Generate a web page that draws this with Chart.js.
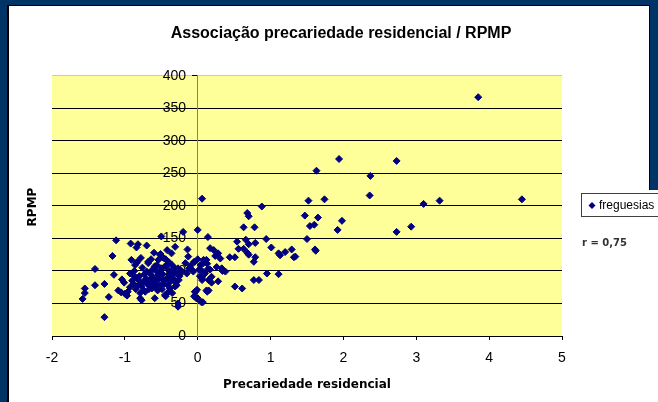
<!DOCTYPE html>
<html lang="pt">
<head>
<meta charset="UTF-8">
<title>Associação precariedade residencial / RPMP</title>
<style>
  html, body { margin: 0; padding: 0; background: #fff; overflow: hidden; }
  #chart { display: block; }
</style>
</head>
<body>
<canvas id="chart" width="658" height="402"></canvas>

<script src="https://cdn.jsdelivr.net/npm/chart.js"></script>
<script>
// dados
const titulo = 'Associação precariedade residencial / RPMP';
const tituloX = 'Precariedade residencial';
const tituloY = 'RPMP';
const serieNome = 'freguesias';
const textoR = 'r = 0,75';

// precariedade residencial (x) e RPMP (y) de cada freguesia
const precariedade = [
  -1.58, -1.55, -1.55, -1.41, -1.41, -1.28, -1.28, -1.22, -1.12, -1.17, -1.15, -1.09, -1.05, -1.04, -1.01, -1.00, -0.97, -0.96, -0.93,
  -0.92, -0.84, -0.82, -0.70, -0.86, -0.83, -0.89, -0.84, -0.79, -0.79, -0.77, -0.68, -0.70, -0.66, -0.59, -0.63, -0.56, -0.52, -0.54, -0.50,
  -0.47, -0.43, -0.40, -0.38, -0.44, -0.36, -0.31, -0.34, -0.27, -0.27, -0.29, -0.20, -0.14, -0.08, -0.06, -0.91, -0.84, -0.68, -0.54, -0.59,
  -0.45, -0.52, -0.40, -0.33, -0.26, -0.31, -0.40, -0.45, -0.27, -0.77, -0.72, -0.79, -0.59, -0.66, -0.17, -0.13, -0.51,
  -0.88, -0.85, -0.82, -0.80, -0.75, -0.74, -0.73, -0.71, -0.69, -0.67, -0.65, -0.63, -0.62, -0.61, -0.58, -0.57, -0.56, -0.55, -0.53, -0.51,
  -0.50, -0.49, -0.48, -0.46, -0.44, -0.42, -0.41, -0.39, -0.37, -0.36, -0.35, -0.33, -0.32, -0.30, -0.28, -0.25, -0.22, -0.93, -0.90, -0.87,
  -0.76, -0.78, -0.64, -0.60, -0.47, -0.42, -0.38, -0.12, -0.10, -0.05, -0.15, -0.05, -0.03, -0.02,
  0.06, 0.88, 0.00, 0.14, 0.04, 0.08, 0.12, 0.17, 0.19, 0.06, -0.01, 0.05, 0.12, 0.15, 0.22, 0.28, 0.31, 0.33, 0.38, 0.28,
  0.44, 0.51, 0.51, 0.61, 0.54, 0.56, 0.63, 0.68, 0.70, 0.78, 0.66, 0.70, 0.79, 0.63, 0.68, 0.70, 0.79, 0.77, 0.77, 0.84,
  0.94, 0.95, 1.01, 0.17, 0.24, 0.00, 0.08, 0.13, 0.14, 0.02, 0.26, 0.34, 0.06, 0.19, 0.15, 0.13, 0.07, 0.05, -0.04, -0.04,
  0.00, 0.10, 0.03,
  1.11, 1.13, 1.20, 1.29, 1.32, 1.34, 1.11, 1.61, 1.62, 1.50, 1.47, 1.65, 1.54, 1.60, 1.98, 1.92, 1.52, 1.74, 1.63, 1.94,
  2.73, 2.37, 2.36, 2.73, 2.93, 3.10, 3.32, 4.45, 3.85
];
const rpmp = [
  57, 66, 73, 103, 78, 29, 80, 60, 147, 123, 94, 70, 67, 87, 82, 65, 62, 68, 75,
  142, 136, 141, 139, 109, 114, 94, 89, 84, 66, 55, 114, 99, 86, 58, 73, 109, 125, 94, 153,
  86, 107, 114, 73, 61, 127, 137, 94, 104, 45, 78, 160, 133, 102, 99, 117, 112, 112, 117, 107,
  107, 97, 91, 97, 86, 76, 68, 63, 50, 76, 68, 58, 86, 78, 112, 122, 126,
  80, 72, 78, 92, 82, 70, 95, 88, 80, 72, 95, 82, 102, 90, 75, 100, 80, 70, 88, 78,
  104, 72, 95, 80, 118, 88, 78, 100, 84, 110, 66, 88, 105, 82, 96, 92, 100, 96, 85, 100,
  105, 120, 118, 128, 120, 132, 96, 104, 108, 114, 96, 61, 68, 58,
  211, 199, 163, 152, 109, 112, 117, 102, 91, 86, 71, 52, 70, 86, 132, 127, 119, 104, 99, 84,
  121, 121, 76, 73, 145, 134, 167, 189, 184, 167, 148, 141, 143, 134, 128, 125, 121, 114, 86, 86,
  149, 96, 136, 135, 123, 118, 117, 111, 103, 102, 106, 100, 89, 82, 70, 68, 52, 101, 114, 68,
  58, 96, 92,
  127, 124, 129, 133, 121, 122, 95, 133, 131, 149, 185, 182, 169, 171, 177, 163, 208, 210, 254, 272,
  269, 246, 216, 160, 168, 203, 208, 210, 367
];

const xMin = -2, xMax = 5, xStep = 1;
const yMin = 0, yMax = 400, yStep = 50;

const pontos = precariedade.map((x, i) => ({ x: x, y: rpmp[i] }));

const fonte = "'Liberation Sans', Arial, sans-serif";
const fonteLarga = "'DejaVu Sans', Verdana, sans-serif";

// moldura azul, fundo da área do gráfico e textos extra (legenda, r)
const moldura = {
  id: 'moldura',
  afterLayout(chart) {
    // o título do original está centrado na janela, não na área do gráfico
    if (chart.titleBlock) chart.titleBlock.right = 630;
  },
  beforeDraw(chart) {
    const ctx = chart.ctx;
    const a = chart.chartArea;
    ctx.save();
    ctx.fillStyle = '#fff';
    ctx.fillRect(0, 0, chart.width, chart.height);
    ctx.fillStyle = '#003366';
    ctx.fillRect(0, 0, chart.width, 5);
    ctx.fillRect(0, 0, 7, chart.height);
    ctx.fillRect(650, 0, 8, 190);
    ctx.fillStyle = '#000';
    ctx.fillRect(7, 5, 2, chart.height - 5);
    ctx.fillRect(7, 5, 643, 1);
    ctx.fillRect(649, 5, 1, 185);
    ctx.fillStyle = '#FFFF99';
    ctx.fillRect(a.left, a.top, a.right - a.left, a.bottom - a.top);
    ctx.restore();
  },
  afterDraw(chart) {
    const ctx = chart.ctx;
    ctx.save();
    // título do eixo vertical
    ctx.fillStyle = '#000';
    ctx.font = 'bold 12px ' + fonteLarga;
    ctx.textAlign = 'center';
    ctx.textBaseline = 'middle';
    ctx.translate(33, 207);
    ctx.rotate(-Math.PI / 2);
    ctx.fillText(tituloY, 0, 0);
    ctx.restore();

    // legenda
    ctx.save();
    ctx.fillStyle = '#fff';
    ctx.fillRect(581, 193, 90, 24);
    ctx.strokeStyle = '#404040';
    ctx.lineWidth = 1;
    ctx.strokeRect(581.5, 193.5, 90, 23);
    const ds = chart.data.datasets[0];
    ctx.fillStyle = ds.backgroundColor;
    ctx.beginPath();
    ctx.moveTo(592, 202);
    ctx.lineTo(595.5, 205.5);
    ctx.lineTo(592, 209);
    ctx.lineTo(588.5, 205.5);
    ctx.closePath();
    ctx.fill();
    ctx.fillStyle = '#000';
    ctx.font = '12px ' + fonte;
    ctx.textAlign = 'left';
    ctx.textBaseline = 'middle';
    ctx.fillText(ds.label, 599, 206);

    ctx.fillStyle = '#333';
    ctx.font = 'bold 10px ' + fonteLarga;
    ctx.fillText(textoR, 582, 243);
    ctx.restore();
  }
};

const ctx = document.getElementById('chart').getContext('2d');
new Chart(ctx, {
  type: 'scatter',
  data: {
    datasets: [{
      label: serieNome,
      data: pontos,
      backgroundColor: '#000080',
      borderColor: '#000080',
      borderWidth: 1,
      pointStyle: 'rectRot',
      pointRadius: 3.5,
      pointHoverRadius: 3.5
    }]
  },
  options: {
    responsive: false,
    animation: false,
    layout: { padding: { left: 52, right: 96, top: 0, bottom: 0 } },
    font: { family: fonte },
    plugins: {
      legend: { display: false },
      tooltip: { enabled: false },
      title: {
        display: true,
        text: titulo,
        color: '#000',
        font: { family: fonte, size: 16, weight: 'bold' },
        padding: { top: 24, bottom: 32.5 }
      }
    },
    scales: {
      x: {
        type: 'linear',
        min: xMin,
        max: xMax,
        ticks: { stepSize: xStep, color: '#000', font: { family: fonte, size: 14 }, padding: 10 },
        grid: { drawOnChartArea: false, tickLength: 4, tickColor: '#000' },
        border: { color: '#000' },
        title: {
          display: true,
          text: tituloX,
          color: '#000',
          font: { family: fonteLarga, size: 12, weight: 'bold' },
          padding: { top: 0, bottom: 10 }
        },
        afterFit(scale) { scale.height = 66; }
      },
      y: {
        type: 'linear',
        position: { x: 0 },
        min: yMin,
        max: yMax,
        ticks: {
          stepSize: yStep,
          color: '#000',
          font: { family: fonte, size: 14 },
          callback: v => v + '   '
        },
        grid: {
          color: c => (c.tick && c.tick.value === yMax) ? '#c8c8c8' : '#000',
          tickLength: 5,
          tickColor: '#000'
        },
        border: { color: '#808080' }
      }
    }
  },
  plugins: [moldura]
});
</script>
</body>
</html>
